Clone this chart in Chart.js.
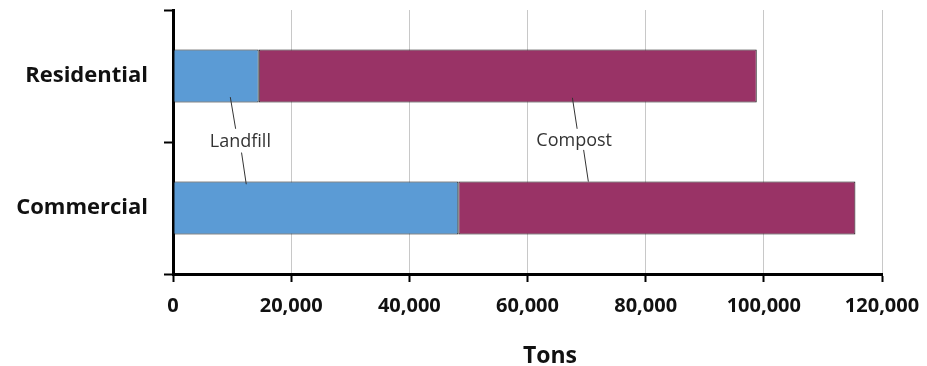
<!DOCTYPE html>
<html>
<head>
<meta charset="utf-8">
<script src="https://cdn.jsdelivr.net/npm/chart.js@4"></script>
<style>
  html, body { margin: 0; padding: 0; background: #fff; }
  #wrap { width: 927px; height: 366px; position: relative; }
</style>
</head>
<body>
<div id="wrap"><canvas id="chart"></canvas></div>
<script>
/* ---------- dados ---------- */
const categories = ['Residential', 'Commercial'];
const landfill = [14500, 48300];
const compost = [84300, 67200];
const xTickValues = [0, 20000, 40000, 60000, 80000, 100000, 120000];
const seriesNames = ['Landfill', 'Compost'];
const axisTitle = 'Tons';

/* ---------- rótulos com linha de chamada (em unidades dos eixos) ---------- */
const callouts = [
  { text: seriesNames[0], x: 11400, y: 0.5, lines: [[9700, 0.16, 10600, 0.40], [11600, 0.58, 12400, 0.82]] },
  { text: seriesNames[1], x: 67900, y: 0.49, lines: [[67600, 0.165, 68400, 0.40], [69500, 0.56, 70300, 0.80]] }
];

const calloutPlugin = {
  id: 'callouts',
  afterDatasetsDraw(chart) {
    const { ctx, scales: { x, y } } = chart;
    ctx.save();
    ctx.strokeStyle = '#333';
    ctx.lineWidth = 1;
    callouts.forEach(c => {
      c.lines.forEach(([x1, y1, x2, y2]) => {
        ctx.beginPath();
        ctx.moveTo(x.getPixelForValue(x1), y.getPixelForValue(y1));
        ctx.lineTo(x.getPixelForValue(x2), y.getPixelForValue(y2));
        ctx.stroke();
      });
      ctx.fillStyle = '#333';
      ctx.font = "18px 'Open Sans'";
      ctx.textAlign = 'center';
      ctx.textBaseline = 'middle';
      ctx.fillText(c.text, x.getPixelForValue(c.x), y.getPixelForValue(c.y));
    });
    ctx.restore();
  }
};

// título do eixo x centrado entre o início do gráfico e a borda direita
const axisTitlePlugin = {
  id: 'axisTitle',
  afterDraw(chart) {
    const { ctx, chartArea, width, height } = chart;
    ctx.save();
    ctx.fillStyle = '#111';
    ctx.font = "bold 23px 'Open Sans'";
    ctx.textAlign = 'center';
    ctx.textBaseline = 'alphabetic';
    ctx.fillText(axisTitle, (chartArea.left + width) / 2, height - 3);
    ctx.restore();
  }
};

new Chart(document.getElementById('chart'), {
  type: 'bar',
  data: {
    labels: categories,
    datasets: [
      { label: seriesNames[0], data: landfill, backgroundColor: '#5B9BD5', borderColor: '#111', borderWidth: 1, borderSkipped: false },
      { label: seriesNames[1], data: compost, backgroundColor: '#993366', borderColor: '#111', borderWidth: 1, borderSkipped: false }
    ]
  },
  options: {
    indexAxis: 'y',
    responsive: true, maintainAspectRatio: false, animation: false,
    categoryPercentage: 0.8, barPercentage: 0.5,
    layout: { padding: { top: 10, right: 45, left: 0, bottom: 0 } },
    plugins: { legend: { display: false }, tooltip: { enabled: false } },
    scales: {
      x: {
        stacked: true, min: 0, max: 120000,
        afterBuildTicks: (s) => { s.ticks = xTickValues.map(v => ({ value: v })); },
        afterFit: (s) => { s.height = 92; s.paddingLeft = 0; s.paddingRight = 0; },
        border: { color: '#000', width: 3 },
        grid: { color: '#c8c8c8', lineWidth: 1, tickColor: '#000', tickWidth: 2, tickLength: 8 },
        ticks: {
          padding: 12, color: '#111',
          font: { family: "'Open Sans'", size: 20, weight: 'bold' },
          callback: (v) => Number(v).toLocaleString('en-US')
        }
      },
      y: {
        stacked: true,
        afterFit: (s) => { s.width = 173; s.paddingTop = 0; s.paddingBottom = 0; },
        border: { color: '#000', width: 3 },
        grid: { offset: true, drawOnChartArea: false, tickColor: '#000', tickWidth: 2, tickLength: 9 },
        ticks: {
          padding: 16, color: '#111',
          font: { family: "'Open Sans'", size: 22, weight: 'bold' }
        }
      }
    }
  },
  plugins: [calloutPlugin, axisTitlePlugin]
});
</script>
</body>
</html>
